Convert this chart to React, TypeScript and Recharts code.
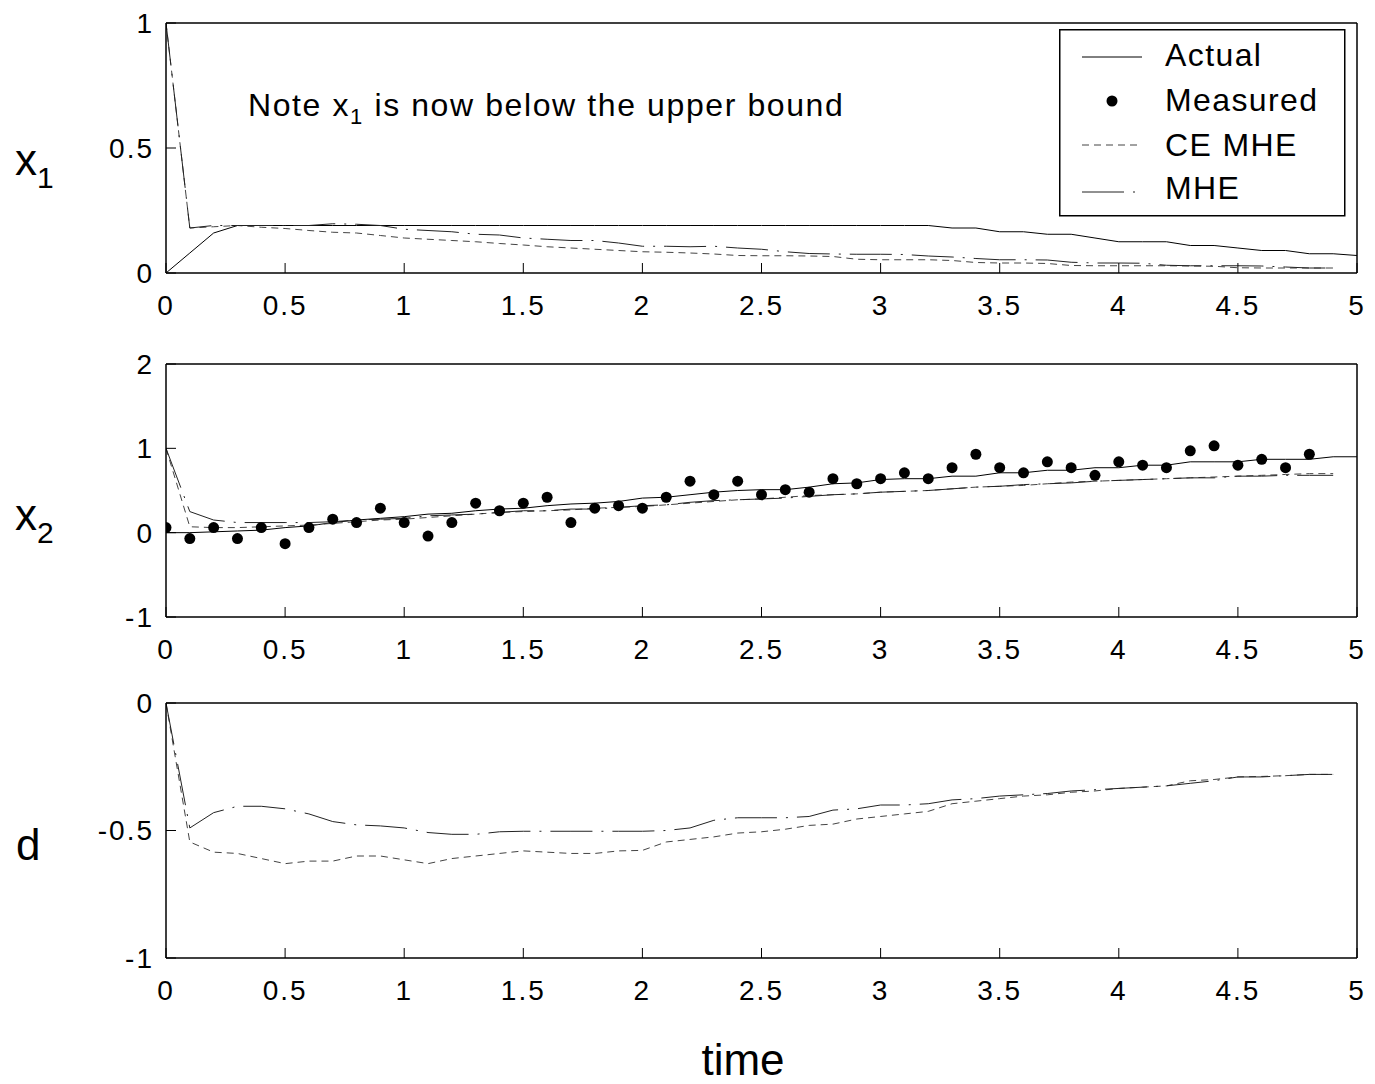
import React from 'react';
import { ComposedChart, Line, XAxis, YAxis } from 'recharts';

// time grid (s)
const time = [
  0, 0.1, 0.2, 0.3, 0.4, 0.5, 0.6, 0.7, 0.8, 0.9,
  1, 1.1, 1.2, 1.3, 1.4, 1.5, 1.6, 1.7, 1.8, 1.9,
  2, 2.1, 2.2, 2.3, 2.4, 2.5, 2.6, 2.7, 2.8, 2.9,
  3, 3.1, 3.2, 3.3, 3.4, 3.5, 3.6, 3.7, 3.8, 3.9,
  4, 4.1, 4.2, 4.3, 4.4, 4.5, 4.6, 4.7, 4.8, 4.9, 5,
];

// x1 panel
const x1Actual = [
  0, 0.08, 0.16, 0.19, 0.19, 0.19, 0.19, 0.19, 0.19, 0.19,
  0.19, 0.19, 0.19, 0.19, 0.19, 0.19, 0.19, 0.19, 0.19, 0.19,
  0.19, 0.19, 0.19, 0.19, 0.19, 0.19, 0.19, 0.19, 0.19, 0.19,
  0.19, 0.19, 0.19, 0.18, 0.18, 0.165, 0.165, 0.155, 0.155, 0.14,
  0.125, 0.125, 0.125, 0.11, 0.11, 0.1, 0.09, 0.09, 0.077, 0.077, 0.07,
];
const x1Ce = [
  1, 0.18, 0.185, 0.19, 0.183, 0.178, 0.17, 0.163, 0.16, 0.15,
  0.14, 0.135, 0.13, 0.125, 0.118, 0.112, 0.105, 0.1, 0.095, 0.09,
  0.085, 0.083, 0.08, 0.076, 0.07, 0.069, 0.069, 0.068, 0.066, 0.055,
  0.053, 0.053, 0.053, 0.05, 0.042, 0.04, 0.04, 0.038, 0.03, 0.029,
  0.029, 0.029, 0.029, 0.028, 0.027, 0.021, 0.02, 0.02, 0.02, 0.02,
];
const x1Mhe = [
  1, 0.18, 0.19, 0.19, 0.19, 0.19, 0.19, 0.197, 0.195, 0.19,
  0.175, 0.17, 0.165, 0.155, 0.152, 0.14, 0.135, 0.13, 0.13, 0.12,
  0.107, 0.107, 0.105, 0.107, 0.1, 0.095, 0.085, 0.078, 0.076, 0.075,
  0.075, 0.074, 0.068, 0.064, 0.058, 0.053, 0.053, 0.052, 0.043, 0.04,
  0.04, 0.039, 0.031, 0.029, 0.029, 0.029, 0.028, 0.024, 0.02, 0.02,
];

// x2 panel
const x2Actual = [
  0, 0, 0.01, 0.02, 0.03, 0.06, 0.08, 0.12, 0.15, 0.17,
  0.19, 0.22, 0.23, 0.26, 0.28, 0.29, 0.32, 0.34, 0.35, 0.37,
  0.41, 0.42, 0.45, 0.48, 0.5, 0.51, 0.51, 0.54, 0.58, 0.59,
  0.63, 0.64, 0.64, 0.67, 0.67, 0.71, 0.71, 0.74, 0.74, 0.77,
  0.77, 0.8, 0.8, 0.84, 0.84, 0.84, 0.87, 0.87, 0.87, 0.9, 0.9,
];
const x2Measured = [
  0.06, -0.07, 0.06, -0.07, 0.06, -0.13, 0.06, 0.16, 0.12, 0.29,
  0.12, -0.04, 0.12, 0.35, 0.26, 0.35, 0.42, 0.12, 0.29, 0.32,
  0.29, 0.42, 0.61, 0.45, 0.61, 0.45, 0.51, 0.48, 0.64, 0.58,
  0.64, 0.71, 0.64, 0.77, 0.93, 0.77, 0.71, 0.84, 0.77, 0.68,
  0.84, 0.8, 0.77, 0.97, 1.03, 0.8, 0.87, 0.77, 0.93,
];
const x2Ce = [
  1, 0.07, 0.06, 0.06, 0.07, 0.08, 0.09, 0.11, 0.13, 0.15,
  0.16, 0.18, 0.2, 0.22, 0.24, 0.25, 0.26, 0.27, 0.29, 0.3,
  0.31, 0.33, 0.35, 0.37, 0.39, 0.4, 0.42, 0.44, 0.45, 0.46,
  0.48, 0.49, 0.5, 0.52, 0.54, 0.55, 0.56, 0.58, 0.6, 0.61,
  0.62, 0.63, 0.64, 0.65, 0.66, 0.67, 0.68, 0.69, 0.7, 0.7,
];
const x2Mhe = [
  1, 0.25, 0.15, 0.12, 0.12, 0.12, 0.12, 0.13, 0.15, 0.16,
  0.17, 0.2, 0.21, 0.22, 0.24, 0.26, 0.26, 0.28, 0.28, 0.3,
  0.32, 0.33, 0.36, 0.38, 0.39, 0.4, 0.41, 0.43, 0.45, 0.46,
  0.48, 0.49, 0.5, 0.52, 0.54, 0.55, 0.57, 0.58, 0.59, 0.61,
  0.62, 0.63, 0.64, 0.65, 0.65, 0.67, 0.67, 0.68, 0.68, 0.68,
];

// d panel
const dCe = [
  0, -0.545, -0.585, -0.59, -0.61, -0.63, -0.62, -0.62, -0.6, -0.6,
  -0.615, -0.63, -0.61, -0.6, -0.59, -0.58, -0.585, -0.59, -0.59, -0.58,
  -0.578, -0.545, -0.535, -0.525, -0.51, -0.505, -0.495, -0.48, -0.475, -0.455,
  -0.445, -0.435, -0.425, -0.395, -0.385, -0.375, -0.365, -0.36, -0.35, -0.345,
  -0.335, -0.33, -0.325, -0.305, -0.3, -0.29, -0.288, -0.285, -0.28, -0.28,
];
const dMhe = [
  0, -0.49, -0.43, -0.405, -0.405, -0.415, -0.435, -0.465, -0.478, -0.482,
  -0.49, -0.508, -0.515, -0.515, -0.505, -0.503, -0.503, -0.503, -0.503, -0.503,
  -0.503, -0.5, -0.49, -0.46, -0.45, -0.45, -0.45, -0.445, -0.42, -0.415,
  -0.4, -0.4, -0.395, -0.38, -0.375, -0.365, -0.36, -0.355, -0.345, -0.34,
  -0.335, -0.33, -0.325, -0.315, -0.305, -0.29, -0.29, -0.285, -0.28, -0.28,
];

const xTicks = [0, 0.5, 1, 1.5, 2, 2.5, 3, 3.5, 4, 4.5, 5];
const x1Ticks = [0, 0.5, 1];
const x2Ticks = [-1, 0, 1, 2];
const dTicks = [-1, -0.5, 0];

const FONT = '"Liberation Sans", Arial, Helvetica, sans-serif';
const W = 1375;
const CE_DASH = '7 5';
const MHE_DASH = '42 9 2 9';

const x1Data = time.map((t, i) => ({ t, actual: x1Actual[i], ce: x1Ce[i], mhe: x1Mhe[i] }));
const x2Data = time.map((t, i) => ({ t, actual: x2Actual[i], meas: x2Measured[i], ce: x2Ce[i], mhe: x2Mhe[i] }));
const dData = time.map((t, i) => ({ t, ce: dCe[i], mhe: dMhe[i] }));

const tickStyle = { fill: '#000', fontSize: 28, fontFamily: FONT, letterSpacing: 2 };
const axisStroke = { stroke: '#000', strokeWidth: 1.5 };

// legend box drawn in page coords (top-left 1059, 29)
const LegendBox = () => (
  <g transform="translate(1059 29)">
    <rect x={0.75} y={0.75} width={285} height={186} fill="#fff" stroke="#000" strokeWidth={1.5} />
    <g fontFamily={FONT} fontSize={32} letterSpacing={1.4} fill="#000">
      <line x1={23} x2={83} y1={28} y2={28} stroke="#000" strokeWidth={1} />
      <text x={106} y={37}>Actual</text>
      <circle cx={53} cy={72} r={5.5} fill="#000" />
      <text x={106} y={82}>Measured</text>
      <line x1={23} x2={83} y1={116} y2={116} stroke="#444" strokeWidth={1} strokeDasharray={CE_DASH} />
      <text x={106} y={127}>CE MHE</text>
      <line x1={23} x2={84} y1={163} y2={163} stroke="#222" strokeWidth={1} strokeDasharray={MHE_DASH} />
      <text x={106} y={170}>MHE</text>
    </g>
  </g>
);

type PanelProps = {
  data: any[];
  top: number;
  marginTop: number;
  plotHeight: number;
  domain: [number, number];
  yTicks: number[];
  children: React.ReactNode;
};

const Panel = ({ data, top, marginTop, plotHeight, domain, yTicks, children }: PanelProps) => (
  <div style={{ position: 'absolute', left: 0, top }}>
    <ComposedChart
      width={W}
      height={marginTop + 1 + plotHeight + 60}
      data={data}
      margin={{ top: marginTop, right: 9, bottom: 0, left: 106 }}
    >
      <XAxis
        dataKey="t"
        type="number"
        domain={[0, 5]}
        ticks={xTicks}
        interval={0}
        allowDataOverflow
        height={60}
        tickSize={-10}
        tickMargin={32}
        axisLine={axisStroke}
        tickLine={{ stroke: '#000' }}
        tick={tickStyle}
      />
      <XAxis
        xAxisId="top"
        orientation="top"
        dataKey="t"
        type="number"
        domain={[0, 5]}
        ticks={xTicks}
        interval={0}
        height={1}
        tickSize={-10}
        axisLine={axisStroke}
        tickLine={{ stroke: '#000' }}
        tick={false}
      />
      <YAxis
        type="number"
        domain={domain}
        ticks={yTicks}
        interval={0}
        allowDataOverflow
        width={60}
        tickSize={-10}
        tickMargin={22}
        axisLine={axisStroke}
        tickLine={{ stroke: '#000' }}
        tick={tickStyle}
      />
      <YAxis
        yAxisId="right"
        orientation="right"
        type="number"
        domain={domain}
        ticks={yTicks}
        interval={0}
        width={9}
        tickSize={-10}
        axisLine={axisStroke}
        tickLine={{ stroke: '#000' }}
        tick={false}
      />
      {children}
    </ComposedChart>
  </div>
);

export default function App() {
  return (
    <div style={{ position: 'absolute', left: 0, top: 0, width: W, height: 1084, background: '#fff', fontFamily: FONT }}>
      <Panel data={x1Data} top={0} marginTop={22} plotHeight={250} domain={[0, 1]} yTicks={x1Ticks}>
        <Line dataKey="actual" type="linear" stroke="#000" strokeWidth={1} dot={false} activeDot={false} isAnimationActive={false} />
        <Line dataKey="ce" type="linear" stroke="#444" strokeWidth={1} strokeDasharray={CE_DASH} dot={false} activeDot={false} isAnimationActive={false} />
        <Line dataKey="mhe" type="linear" stroke="#222" strokeWidth={1} strokeDasharray={MHE_DASH} dot={false} activeDot={false} isAnimationActive={false} />
      </Panel>
      <Panel data={x2Data} top={340} marginTop={23} plotHeight={253} domain={[-1, 2]} yTicks={x2Ticks}>
        <Line dataKey="actual" type="linear" stroke="#000" strokeWidth={1} dot={false} activeDot={false} isAnimationActive={false} />
        <Line dataKey="meas" type="linear" stroke="none" dot={{ r: 5.5, fill: '#000', stroke: 'none' }} activeDot={false} isAnimationActive={false} />
        <Line dataKey="ce" type="linear" stroke="#444" strokeWidth={1} strokeDasharray={CE_DASH} dot={false} activeDot={false} isAnimationActive={false} />
        <Line dataKey="mhe" type="linear" stroke="#222" strokeWidth={1} strokeDasharray={MHE_DASH} dot={false} activeDot={false} isAnimationActive={false} />
      </Panel>
      <Panel data={dData} top={680} marginTop={22} plotHeight={255} domain={[-1, 0]} yTicks={dTicks}>
        <Line dataKey="ce" type="linear" stroke="#444" strokeWidth={1} strokeDasharray={CE_DASH} dot={false} activeDot={false} isAnimationActive={false} />
        <Line dataKey="mhe" type="linear" stroke="#222" strokeWidth={1} strokeDasharray={MHE_DASH} dot={false} activeDot={false} isAnimationActive={false} />
      </Panel>
      <svg width={W} height={1084} style={{ position: 'absolute', left: 0, top: 0, pointerEvents: 'none' }}>
        <LegendBox />
        <g fontFamily={FONT} fill="#000">
          <text x={15} y={175} fontSize={44}>
            x<tspan fontSize={30} dy={13}>1</tspan>
          </text>
          <text x={15} y={530} fontSize={44}>
            x<tspan fontSize={30} dy={13}>2</tspan>
          </text>
          <text x={16} y={860} fontSize={44}>d</text>
          <text x={743} y={1075} fontSize={44} textAnchor="middle">time</text>
          <text x={248} y={116} fontSize={32} letterSpacing={1.6}>
            Note x<tspan fontSize={22} dy={8}>1</tspan>
            <tspan dy={-8}> is now below the upper bound</tspan>
          </text>
        </g>
      </svg>
    </div>
  );
}
